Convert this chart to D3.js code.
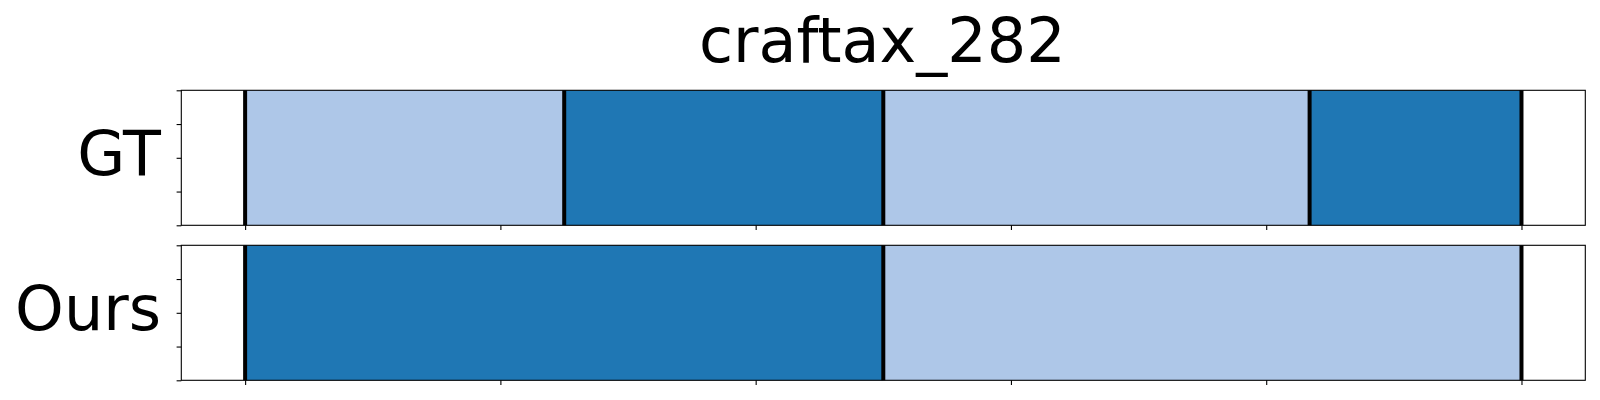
<!DOCTYPE html>
<html>
<head>
<meta charset="utf-8">
<script src="https://cdn.jsdelivr.net/npm/d3@7"></script>
<style>
  body { margin: 0; background: #fff; }
  svg { display: block; font-family: "DejaVu Sans", sans-serif; }
</style>
</head>
<body>
<svg id="chart" width="1600" height="400"></svg>
<script>
// ---- data ----
const title = "craftax_282";
const rowLabels = ["GT", "Ours"];
const gtStarts = [0, 62.5, 125, 208.5];
const gtEnds = [62.5, 125, 208.5, 250];
const gtClasses = [0, 1, 0, 1];
const oursStarts = [0, 125];
const oursEnds = [125, 250];
const oursClasses = [1, 0];
const classColors = ["#aec7e8", "#1f77b4"];
const xTicks = [0, 50, 100, 150, 200, 250];
const yTicks = [0, 0.25, 0.5, 0.75, 1];
const xDomain = [-12.5, 262.5];

const rows = [
  { label: rowLabels[0], starts: gtStarts, ends: gtEnds, classes: gtClasses },
  { label: rowLabels[1], starts: oursStarts, ends: oursEnds, classes: oursClasses }
];

const svg = d3.select("#chart");
const left = 181.3, right = 1585.3;
const panelTops = [90.3, 245.3];
const panelH = 135;
const fontSize = 62;

const x = d3.scaleLinear().domain(xDomain).range([left, right]);

svg.append("text")
  .attr("x", (left + right) / 2 - 1)
  .attr("y", 62)
  .attr("text-anchor", "middle")
  .attr("font-size", fontSize)
  .attr("fill", "#000")
  .text(title);

rows.forEach((row, i) => {
  const top = panelTops[i];
  const y = d3.scaleLinear().domain([0, 1]).range([top + panelH, top]);
  const g = svg.append("g");

  const segs = row.starts.map((s, k) => ({ s, e: row.ends[k], c: row.classes[k] }));
  g.selectAll("rect.seg").data(segs).join("rect")
    .attr("class", "seg")
    .attr("x", d => x(d.s))
    .attr("width", d => x(d.e) - x(d.s))
    .attr("y", y(1))
    .attr("height", y(0) - y(1))
    .attr("fill", d => classColors[d.c]);

  const bounds = Array.from(new Set(row.starts.concat(row.ends)));
  g.selectAll("line.bound").data(bounds).join("line")
    .attr("class", "bound")
    .attr("x1", d => x(d)).attr("x2", d => x(d))
    .attr("y1", y(0)).attr("y2", y(1))
    .attr("stroke", "#000")
    .attr("stroke-width", 4);

  // frame
  g.append("rect")
    .attr("x", left).attr("y", top)
    .attr("width", right - left).attr("height", panelH)
    .attr("fill", "none").attr("stroke", "#000").attr("stroke-width", 1.1);

  const xAxis = d3.axisBottom(x).tickValues(xTicks).tickSize(4.7).tickFormat("");
  g.append("g").attr("transform", `translate(0,${top + panelH})`).call(xAxis)
    .call(a => a.select(".domain").remove())
    .call(a => a.selectAll("line").attr("stroke-width", 1.1));

  const yAxis = d3.axisLeft(y).tickValues(yTicks).tickSize(4.7).tickFormat("");
  g.append("g").attr("transform", `translate(${left},0)`).call(yAxis)
    .call(a => a.select(".domain").remove())
    .call(a => a.selectAll("line").attr("stroke-width", 1.1));

  g.append("text")
    .attr("x", 161)
    .attr("y", top + panelH / 2 + 17.6)
    .attr("text-anchor", "end")
    .attr("font-size", fontSize)
    .attr("fill", "#000")
    .text(row.label);
});
</script>
</body>
</html>
